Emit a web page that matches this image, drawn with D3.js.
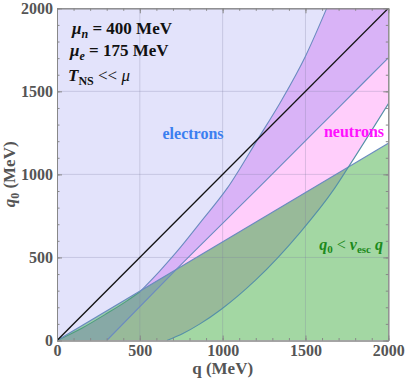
<!DOCTYPE html>
<html>
<head>
<meta charset="utf-8">
<script src="https://cdn.jsdelivr.net/npm/d3@7"></script>
<style>
  body { margin: 0; background: #fff; }
</style>
</head>
<body>
<div id="chart"></div>
<script>
const FONT = "Liberation Serif, Times New Roman, Times, DejaVu Serif, serif";

// boundary curves, [q, q0] in MeV
// electrons: allowed above this line
const curveX  = [[300,0],[722,430],[1266,968],[1708,1410],[2000,1702]];
// neutrons: allowed below this curve and above curveD
const curveY  = [[0,0],[150,74],[300,162],[420,237],[501,294],[620,418],[722,533],[873,720],[1030,920],[1215,1217],[1356,1447],[1500,1712],[1628,2000]];
const curveD  = [[663,0],[760,42],[863,100],[994,190],[1200,365],[1467,650],[1668,905],[1750,1030],[2000,1425]];
// q0 = v_esc q
const escLine = [[0,0],[2000,1187]];
const diagLine = [[0,0],[2000,2000]];

const majorTicks = [0, 500, 1000, 1500, 2000];
const minorTicks = d3.range(0, 2001, 100);

const W = 407, H = 382;
const margin = {top: 8.3, right: 18.7, bottom: 41.5, left: 57};

const svg = d3.select("#chart").append("svg")
    .attr("width", W)
    .attr("height", H)
    .attr("font-family", FONT);

const x = d3.scaleLinear().domain([0, 2000]).range([margin.left, W - margin.right]);
const y = d3.scaleLinear().domain([0, 2000]).range([H - margin.bottom, margin.top]);

const curve = d3.line().x(d => x(d[0])).y(d => y(d[1])).curve(d3.curveMonotoneX);
const straight = d3.line().x(d => x(d[0])).y(d => y(d[1]));
const toL = p => "L" + x(p[0]) + "," + y(p[1]);

// region outlines
const neutronPath = curve(curveY) + toL([2000,2000]) + toL([2000,1425])
    + curve(curveD.slice().reverse()).replace("M", "L") + toL([0,0]) + "Z";
const aboveXPath = curve(curveX) + toL([2000,2000]) + toL([0,2000]) + toL([0,0]) + "Z";
const plotRect = {x: x(0), y: y(2000), w: x(2000) - x(0), h: y(0) - y(2000)};

const defs = svg.append("defs");
defs.append("clipPath").attr("id", "plotclip")
  .append("rect")
    .attr("x", plotRect.x).attr("y", plotRect.y)
    .attr("width", plotRect.w).attr("height", plotRect.h);
defs.append("clipPath").attr("id", "escclip")
  .append("path").attr("d", straight(escLine) + toL([2000,0]) + "Z");
defs.append("clipPath").attr("id", "eclip")
  .append("path").attr("d", aboveXPath);

const plot = svg.append("g").attr("clip-path", "url(#plotclip)");

// below X and outside neutrons: white; above X: electrons
plot.append("rect")
    .attr("x", plotRect.x).attr("y", plotRect.y)
    .attr("width", plotRect.w).attr("height", plotRect.h)
    .attr("fill", "#ffffff");
plot.append("path").attr("d", aboveXPath).attr("fill", "#e3e3fb");
// neutrons only
plot.append("path").attr("d", neutronPath).attr("fill", "#ffcefb");
// neutrons and electrons
plot.append("g").attr("clip-path", "url(#eclip)")
  .append("path").attr("d", neutronPath).attr("fill", "#d9b3f7");

// q0 < v_esc q
const esc = plot.append("g").attr("clip-path", "url(#escclip)");
esc.append("rect")
    .attr("x", plotRect.x).attr("y", plotRect.y)
    .attr("width", plotRect.w).attr("height", plotRect.h)
    .attr("fill", "#a3d7a3");
esc.append("path").attr("d", aboveXPath).attr("fill", "#9ccdad");
esc.append("path").attr("d", neutronPath).attr("fill", "#98ba99");
esc.append("g").attr("clip-path", "url(#eclip)")
  .append("path").attr("d", neutronPath).attr("fill", "#87a9a6");

// grid lines
const grid = plot.append("g")
    .attr("stroke", "#7c7ca0")
    .attr("stroke-opacity", 0.28)
    .attr("stroke-width", 1);
[500, 1000, 1500].forEach(v => {
  grid.append("line").attr("x1", x(v)).attr("x2", x(v)).attr("y1", y(0)).attr("y2", y(2000));
  grid.append("line").attr("x1", x(0)).attr("x2", x(2000)).attr("y1", y(v)).attr("y2", y(v));
});

// boundary lines
const edge = (d, c) => plot.append("path").attr("d", d).attr("fill", "none")
    .attr("stroke", c).attr("stroke-width", 1.1);
edge(curve(curveY.slice(0, 5)), "#4f9c80");
edge(curve(curveY.slice(4)), "#6b8bc0");
edge(straight(escLine), "#6b8bc0");
edge(curve(curveX), "#6b8bc0");
edge(curve(curveD), "#5590a8");
plot.append("path").attr("d", straight(diagLine)).attr("fill", "none")
    .attr("stroke", "#111").attr("stroke-width", 1.3);

// frame and ticks
function styleAxis(g) {
  g.attr("font-family", FONT);
  g.select(".domain").attr("stroke", "#888");
  g.selectAll(".tick line").attr("stroke", "#888");
  g.selectAll(".tick text")
    .attr("fill", "#555")
    .attr("font-family", FONT)
    .attr("font-size", 16)
    .attr("font-weight", "bold");
}
function frame(makeAxis, tx, ty, labels) {
  svg.append("g").attr("transform", `translate(${tx},${ty})`)
    .call(makeAxis().tickValues(minorTicks).tickSizeInner(-2.5).tickSizeOuter(0).tickFormat(""))
    .call(styleAxis);
  svg.append("g").attr("transform", `translate(${tx},${ty})`)
    .call(makeAxis().tickValues(majorTicks).tickSizeInner(-5).tickSizeOuter(0)
      .tickPadding(labels ? 4 : 0).tickFormat(labels ? d3.format("d") : () => ""))
    .call(styleAxis);
}
frame(() => d3.axisBottom(x), 0, y(0), true);
frame(() => d3.axisTop(x), 0, y(2000), false);
frame(() => d3.axisLeft(y), x(0), 0, true);
frame(() => d3.axisRight(y), x(2000), 0, false);

// axis titles
svg.append("text")
    .attr("x", (x(0) + x(2000)) / 2).attr("y", 374)
    .attr("text-anchor", "middle")
    .attr("fill", "#555")
    .attr("font-size", 17).attr("font-weight", "bold")
    .text("q (MeV)");

const yt = svg.append("text")
    .attr("transform", `translate(15,${(y(0) + y(2000)) / 2}) rotate(-90)`)
    .attr("text-anchor", "middle")
    .attr("fill", "#555")
    .attr("font-size", 17).attr("font-weight", "bold");
yt.append("tspan").attr("font-style", "italic").text("q");
yt.append("tspan").attr("dy", 4).attr("font-size", 12).text("0");
yt.append("tspan").attr("dy", -4).text(" (MeV)");

// annotations
const ann = svg.append("g").attr("fill", "#111").attr("font-weight", "bold").attr("font-size", 17);
const a1 = ann.append("text").attr("x", 72).attr("y", 34);
a1.append("tspan").attr("font-style", "italic").text("μ");
a1.append("tspan").attr("font-style", "italic").attr("dy", 4).attr("font-size", 12).text("n");
a1.append("tspan").attr("dy", -4).text(" = 400 MeV");
const a2 = ann.append("text").attr("x", 70).attr("y", 56);
a2.append("tspan").attr("font-style", "italic").text("μ");
a2.append("tspan").attr("font-style", "italic").attr("dy", 4).attr("font-size", 12).text("e");
a2.append("tspan").attr("dy", -4).text("  = 175 MeV");
const a3 = ann.append("text").attr("x", 68).attr("y", 81);
a3.append("tspan").attr("font-style", "italic").text("T");
a3.append("tspan").attr("dy", 4).attr("font-size", 12).text("NS");
a3.append("tspan").attr("dy", -4).attr("font-weight", "normal").text(" << ");
a3.append("tspan").attr("font-style", "italic").attr("font-weight", "normal").text("μ");

svg.append("text")
    .attr("x", 193).attr("y", 139)
    .attr("text-anchor", "middle")
    .attr("fill", "#3b7ff0")
    .attr("font-size", 16).attr("font-weight", "bold")
    .text("electrons");

svg.append("text")
    .attr("x", 354).attr("y", 137)
    .attr("text-anchor", "middle")
    .attr("fill", "#ff10ff")
    .attr("font-size", 16).attr("font-weight", "bold")
    .text("neutrons");

const ve = svg.append("text")
    .attr("x", 383).attr("y", 250)
    .attr("text-anchor", "end")
    .attr("fill", "#1c8a1c")
    .attr("font-size", 16).attr("font-weight", "bold");
ve.append("tspan").attr("font-style", "italic").text("q");
ve.append("tspan").attr("dy", 3).attr("font-size", 11).text("0");
ve.append("tspan").attr("dy", -3).attr("font-weight", "normal").text(" < ");
ve.append("tspan").attr("font-style", "italic").text("v");
ve.append("tspan").attr("dy", 3).attr("font-size", 11).text("esc");
ve.append("tspan").attr("dy", -3).attr("font-style", "italic").text(" q");
</script>
</body>
</html>
